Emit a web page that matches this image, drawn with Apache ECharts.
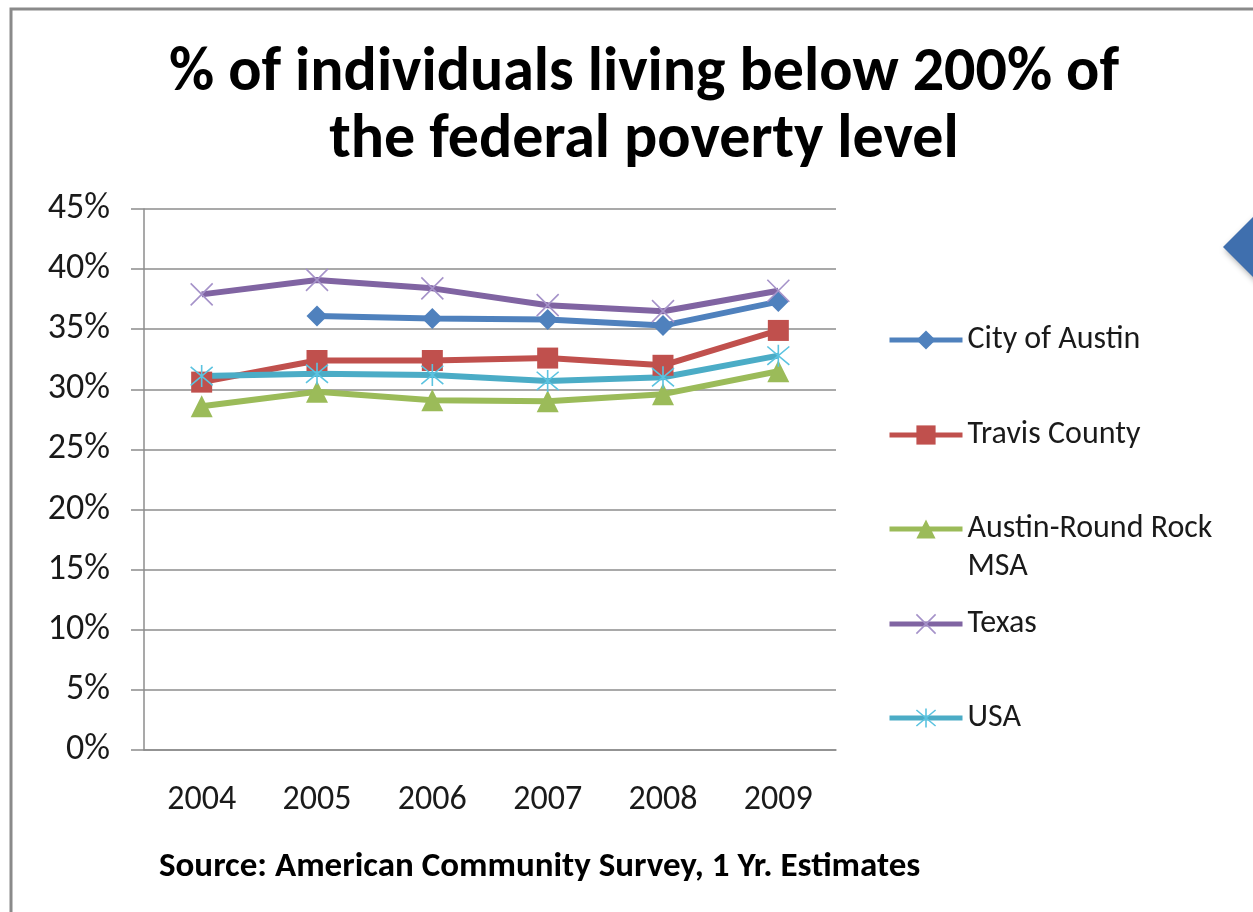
<!DOCTYPE html>
<html>
<head>
<meta charset="utf-8">
<script src="https://cdn.jsdelivr.net/npm/echarts@6/dist/echarts.min.js"></script>
<style>
html,body{margin:0;padding:0;background:#fff;}
#chart{width:1253px;height:912px;}
</style>
</head>
<body>
<div id="chart"></div>
<script>
const years = ['2004', '2005', '2006', '2007', '2008', '2009'];
const cityOfAustin = [null, 36.1, 35.9, 35.8, 35.3, 37.3];
const travisCounty = [30.6, 32.4, 32.4, 32.6, 32.0, 34.9];
const austinRoundRockMSA = [28.6, 29.8, 29.1, 29.0, 29.6, 31.5];
const texas = [37.9, 39.1, 38.4, 37.0, 36.5, 38.2];
const usa = [31.1, 31.3, 31.2, 30.7, 31.0, 32.8];
const yTicks = [0, 5, 10, 15, 20, 25, 30, 35, 40, 45];

const titleText = '% of individuals living below 200% of\nthe federal poverty level';
const sourceText = 'Source: American Community Survey, 1 Yr. Estimates';

const FONT = 'Carlito, Lato, "Open Sans", sans-serif';
const seriesNames = ['City of Austin', 'Travis County', 'Austin-Round Rock MSA', 'Texas', 'USA'];
const colors = ['#4F81BD', '#C0504D', '#9BBB59', '#8064A2', '#4BACC6'];
const markerStrokes = [null, null, null, '#A592C9', '#5BC3E0'];

const xPath = 'path://M0,0L10,10M10,0L0,10';
const starPath = 'path://M0,0L10,10M10,0L0,10M5,-1L5,11';

function mkSeries(name, data, color, symbol, size, stroke) {
  const s = {
    name: name, type: 'line', data: data, connectNulls: false,
    symbol: symbol, symbolSize: size,
    lineStyle: { color: color, width: 6 },
    itemStyle: { color: color },
    emphasis: { disabled: true },
    z: 2
  };
  if (stroke) {
    s.itemStyle = { color: 'none', borderColor: stroke, borderWidth: 1.6 };
  }
  return s;
}

const legendTops = [321, 416, 472, 605, 699];
const legends = seriesNames.map((n, i) => ({
  data: [n],
  orient: 'vertical',
  left: 887,
  top: legendTops[i],
  padding: 0,
  itemWidth: 73,
  itemHeight: 24,
  itemGap: 0,
  selectedMode: false,
  lineStyle: { width: 5 },
  itemStyle: markerStrokes[i] ? { borderWidth: 1.6 } : {},
  formatter: n === 'Austin-Round Rock MSA' ? '\nAustin-Round Rock\nMSA' : '{name}',
  textStyle: {
    fontFamily: FONT, fontSize: 32, color: '#1a1a1a', lineHeight: 38, padding: [0, 0, 0, 0]
  }
}));

const chart = echarts.init(document.getElementById('chart'), null, { renderer: 'canvas' });
chart.setOption({
  animation: false,
  backgroundColor: '#ffffff',
  color: colors,
  title: [
    {
      text: titleText,
      left: 639, top: 36, textAlign: 'center',
      textStyle: { fontFamily: FONT, fontWeight: 'bold', fontSize: 62, lineHeight: 67, color: '#000' }
    },
    {
      text: sourceText,
      left: 154, top: 845,
      textStyle: { fontFamily: FONT, fontWeight: 'bold', fontSize: 35, color: '#000' }
    }
  ],
  legend: legends,
  grid: { left: 144, right: 417, top: 209, bottom: 162, containLabel: false },
  xAxis: {
    type: 'category', data: years, boundaryGap: true,
    axisLine: { show: true, lineStyle: { color: '#8c8c8c', width: 1.5 } },
    axisTick: { show: false },
    axisLabel: { fontFamily: FONT, fontSize: 34, color: '#1a1a1a', margin: 33 },
    splitLine: { show: false }
  },
  yAxis: {
    type: 'value', min: 0, max: 45, interval: 5,
    axisLine: { show: true, lineStyle: { color: '#8c8c8c', width: 1.5 } },
    axisTick: { show: true, length: 13, lineStyle: { color: '#8c8c8c', width: 1.5 } },
    axisLabel: {
      fontFamily: FONT, fontSize: 36, color: '#1a1a1a', margin: 34,
      formatter: v => (yTicks.indexOf(v) >= 0 ? v + '%' : '')
    },
    splitLine: { show: true, lineStyle: { color: '#8c8c8c', width: 1.5 } }
  },
  series: [
    mkSeries(seriesNames[0], cityOfAustin, colors[0], 'diamond', 21),
    mkSeries(seriesNames[1], travisCounty, colors[1], 'rect', 21),
    mkSeries(seriesNames[2], austinRoundRockMSA, colors[2], 'triangle', 22),
    mkSeries(seriesNames[3], texas, colors[3], xPath, 22, markerStrokes[3]),
    mkSeries(seriesNames[4], usa, colors[4], starPath, 22, markerStrokes[4])
  ],
  graphic: [
    { type: 'rect', shape: { x: 11, y: 9, width: 1260, height: 920 }, style: { fill: 'none', stroke: '#8a8a8a', lineWidth: 3 }, silent: true, z: 0 },
    { type: 'polygon', shape: { points: [[1223, 247], [1262, 208], [1300, 247], [1262, 286]] },
      style: { fill: '#3F6FAE', shadowBlur: 6, shadowColor: 'rgba(0,0,0,0.35)', shadowOffsetX: 2, shadowOffsetY: 3 }, silent: true, z: 10 }
  ]
});
</script>
</body>
</html>
